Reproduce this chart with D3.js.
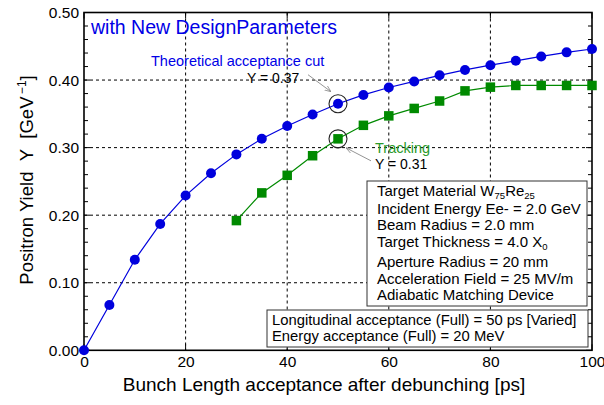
<!DOCTYPE html>
<html><head><meta charset="utf-8">
<script src="https://cdn.jsdelivr.net/npm/d3@7"></script>
<style>body{margin:0;background:#fff}svg{display:block;font-family:"Liberation Sans",Arial,sans-serif}</style>
</head><body><svg id="c" width="604" height="405"></svg>
<script>
const xVals = [0,5,10,15,20,25,30,35,40,45,50,55,60,65,70,75,80,85,90,95,100];
const theoryY = [0,0.067,0.134,0.187,0.229,0.262,0.290,0.313,0.332,0.349,0.365,0.378,0.389,0.398,0.407,0.415,0.422,0.4285,0.435,0.441,0.446];
const trackX = [30,35,40,45,50,55,60,65,70,75,80,85,90,95,100];
const trackY = [0.192,0.233,0.259,0.288,0.313,0.333,0.347,0.358,0.369,0.384,0.3895,0.392,0.392,0.392,0.392];
const xTicks = [0,20,40,60,80,100];
const yTicks = [0,0.1,0.2,0.3,0.4,0.5];
const yMinor = d3.range(0,0.5001,0.02);
const titleText = "with New DesignParameters";
const xTitle = "Bunch Length acceptance after debunching [ps]";
const theoryLabel = "Theoretical acceptance cut";
const trackLabel = "Tracking";
const theoryNote = "Y = 0.37";
const trackNote = "Y = 0.31";
const annotX = 50;

const svg = d3.select("#c");
const L=84, R=592, T=12.5, B=350.3;
const x = d3.scaleLinear().domain([0,100]).range([L,R]);
const y = d3.scaleLinear().domain([0,0.5]).range([B,T]);
const blue="#0000dd", green="#008a00", lgreen="#2a9a2a";

// grid
const g = svg.append("g");
g.selectAll(".gx").data(xTicks.filter(d=>d>0&&d<100)).enter().append("line")
 .attr("x1",d=>x(d)).attr("x2",d=>x(d)).attr("y1",T).attr("y2",B)
 .attr("stroke","#000").attr("stroke-width",1).attr("stroke-dasharray","3,3");
g.selectAll(".gy").data(yTicks.filter(d=>d>0&&d<0.5)).enter().append("line")
 .attr("x1",L).attr("x2",R).attr("y1",d=>y(d)).attr("y2",d=>y(d))
 .attr("stroke","#000").attr("stroke-width",1).attr("stroke-dasharray","3,3");

// axes
const axL = d3.axisLeft(y).tickValues(yTicks).tickFormat(d3.format(".2f")).tickSize(0).tickPadding(5);
svg.append("g").attr("transform",`translate(${L},0)`).call(axL)
 .call(a=>{a.select(".domain").remove();a.selectAll("text").attr("font-size",15.5).attr("font-family","Liberation Sans, Arial").attr("fill","#000");});
const axB = d3.axisBottom(x).tickValues(xTicks).tickSize(0).tickPadding(6);
svg.append("g").attr("transform",`translate(0,${B})`).call(axB)
 .call(a=>{a.select(".domain").remove();a.selectAll("text").attr("font-size",15.5).attr("font-family","Liberation Sans, Arial").attr("fill","#000");});

// ticks inside
const tk = svg.append("g").attr("stroke","#000").attr("stroke-width",1);
yMinor.forEach(v=>{
  const major = Math.abs(v*10-Math.round(v*10))<1e-6;
  const len = major?6:4;
  tk.append("line").attr("x1",L).attr("x2",L+len).attr("y1",y(v)).attr("y2",y(v));
  tk.append("line").attr("x1",R).attr("x2",R-len).attr("y1",y(v)).attr("y2",y(v));
});
xTicks.forEach(v=>{
  tk.append("line").attr("x1",x(v)).attr("x2",x(v)).attr("y1",B).attr("y2",B-6);
  tk.append("line").attr("x1",x(v)).attr("x2",x(v)).attr("y1",T).attr("y2",T+6);
});

// frame
svg.append("rect").attr("x",L).attr("y",T).attr("width",R-L).attr("height",B-T)
 .attr("fill","none").attr("stroke","#000").attr("stroke-width",1.6);

// series
const line = d3.line().x(d=>x(d[0])).y(d=>y(d[1]));
const th = xVals.map((v,i)=>[v,theoryY[i]]);
const tr = trackX.map((v,i)=>[v,trackY[i]]);
svg.append("path").datum(tr).attr("d",line).attr("fill","none").attr("stroke",green).attr("stroke-width",1.2);
svg.append("path").datum(th).attr("d",line).attr("fill","none").attr("stroke",blue).attr("stroke-width",1.2);
svg.selectAll(".ts").data(tr).enter().append("rect")
 .attr("x",d=>x(d[0])-4.75).attr("y",d=>y(d[1])-4.75).attr("width",9.5).attr("height",9.5).attr("fill",green);
svg.selectAll(".tc").data(th).enter().append("circle")
 .attr("cx",d=>x(d[0])).attr("cy",d=>y(d[1])).attr("r",5).attr("fill",blue);

// annotations
const iTh = xVals.indexOf(annotX), iTr = trackX.indexOf(annotX);
const c1=[x(annotX),y(theoryY[iTh])], c2=[x(annotX),y(trackY[iTr])];
[c1,c2].forEach(c=>svg.append("circle").attr("cx",c[0]).attr("cy",c[1]).attr("r",9)
  .attr("fill","none").attr("stroke","#222").attr("stroke-width",1.1));
const defs = svg.append("defs");
defs.append("marker").attr("id","ah").attr("viewBox","0 0 10 10").attr("refX",10).attr("refY",5)
 .attr("markerWidth",7).attr("markerHeight",7).attr("orient","auto")
 .append("path").attr("d","M0,1 L10,5 L0,9").attr("fill","none").attr("stroke","#888").attr("stroke-width",1.2);
svg.append("line").attr("x1",c1[0]-30).attr("y1",c1[1]-29).attr("x2",c1[0]-7).attr("y2",c1[1]-12)
 .attr("stroke","#888").attr("stroke-width",0.9).attr("marker-end","url(#ah)");
svg.append("line").attr("x1",c2[0]+33).attr("y1",c2[1]+22).attr("x2",c2[0]+8).attr("y2",c2[1]+9)
 .attr("stroke","#888").attr("stroke-width",0.9).attr("marker-end","url(#ah)");

const txt=(s,xx,yy,fs,fill,anchor)=>svg.append("text").attr("x",xx).attr("y",yy).attr("font-size",fs)
 .attr("fill",fill).attr("text-anchor",anchor||"start").text(s);
txt(titleText,91,34,19.5,"#0000e6");
txt(theoryLabel,151,66,14.5,"#0000e6");
txt(theoryNote,247,83,14,"#000");
txt(trackLabel,375,153,14.5,lgreen);
txt(trackNote,375,169,14,"#000");

// info box 1
svg.append("rect").attr("x",367).attr("y",181).attr("width",220).attr("height",125)
 .attr("fill","#fff").attr("stroke","#333").attr("stroke-width",1);
const bx=377, fs=15;
const t1=svg.append("text").attr("x",bx).attr("y",196).attr("font-size",fs).attr("fill","#000");
t1.append("tspan").text("Target Material W");
t1.append("tspan").attr("font-size",9.5).attr("dy",3).text("75");
t1.append("tspan").attr("dy",-3).text("Re");
t1.append("tspan").attr("font-size",9.5).attr("dy",3).text("25");
txt("Incident Energy Ee- = 2.0 GeV",bx,214,fs,"#000");
txt("Beam Radius = 2.0 mm",bx,230,fs,"#000");
const t4=svg.append("text").attr("x",bx).attr("y",247).attr("font-size",fs).attr("fill","#000");
t4.append("tspan").text("Target Thickness = 4.0 X");
t4.append("tspan").attr("font-size",9.5).attr("dy",3).text("0");
txt("Aperture Radius = 20 mm",bx,267,fs,"#000");
txt("Acceleration Field = 25 MV/m",bx,284,fs,"#000");
txt("Adiabatic Matching Device",bx,300,fs,"#000");

// info box 2
svg.append("rect").attr("x",267).attr("y",310).attr("width",321).attr("height",37)
 .attr("fill","#fff").attr("stroke","#333").attr("stroke-width",1);
txt("Longitudinal acceptance (Full) = 50 ps [Varied]",272,325,14.8,"#000");
txt("Energy acceptance (Full) = 20 MeV",272,341,14.8,"#000");

// axis titles
txt(xTitle,324,391,19,"#000","middle");
const yl=svg.append("text").attr("transform","translate(33,180) rotate(-90)").attr("text-anchor","middle")
 .attr("font-size",18.5).attr("fill","#000").attr("xml:space","preserve");
yl.append("tspan").text("Positron Yield\u00a0\u00a0Y\u00a0\u00a0[GeV");
yl.append("tspan").attr("font-size",12).attr("dy",-7).text("\u2009\u22121");
yl.append("tspan").attr("dy",7).text("]");
</script></body></html>
